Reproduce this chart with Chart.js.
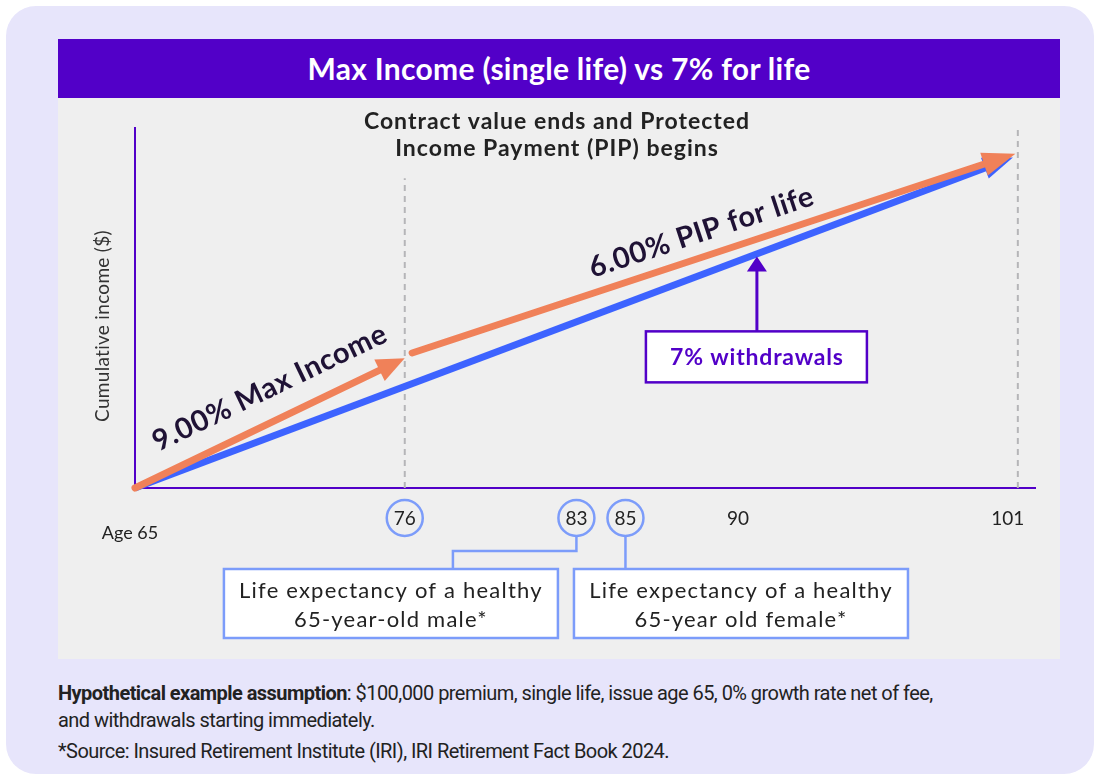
<!DOCTYPE html>
<html>
<head>
<meta charset="utf-8">
<script src="https://cdn.jsdelivr.net/npm/chart.js@4.4.1/dist/chart.umd.min.js"></script>
<style>
  html, body { margin: 0; padding: 0; background: #fff; }
  body { width: 1095px; height: 779px; position: relative; overflow: hidden; font-family: Lato, sans-serif; }
  #card { position: absolute; left: 6px; top: 6px; width: 1088px; height: 768px; background: #e7e5fb; border-radius: 30px; }
  #panel { position: absolute; left: 58px; top: 39px; width: 1002px; height: 620px; background: #efefef; }
  #header { height: 59px; background: #5200c8; color: #fff; font: bold 30px Lato, sans-serif; letter-spacing: 0.3px; text-align: center; line-height: 59px; }
  #chartBox { position: relative; width: 1002px; height: 561px; }
  #notes { position: absolute; left: 58px; top: 680px; width: 1010px; font: 20px Roboto, sans-serif; letter-spacing: -0.55px; color: #222; line-height: 27px; }
  #notes p { margin: 0; }
  #notes p.src { margin-top: 4px; }
</style>
</head>
<body>
<div id="card"></div>
<div id="panel">
  <div id="header">Max Income (single life) vs 7% for life</div>
  <div id="chartBox"><canvas id="chart"></canvas></div>
</div>
<div id="notes">
  <p><b>Hypothetical example assumption</b>: $100,000 premium, single life, issue age 65, 0% growth rate net of fee,<br>and withdrawals starting immediately.</p>
  <p class="src">*Source: Insured Retirement Institute (IRI), IRI Retirement Fact Book 2024.</p>
</div>
<script>
// cumulative income in $ thousands, by age
const maxIncomeAges = [65, 76];
const maxIncomeValues = [0, 101];
const pipAges = [76.3, 100.9];
const pipValues = [105, 260];
const withdrawalAges = [65, 100.8];
const withdrawalValues = [0, 257];
const markerAges = [76, 101];
const markerTops = [241, 281];

const circledAges = [76, 83, 85];
const plainAges = [90, 101];
const startAge = 65;

const PURPLE = '#5200c8';
const ORANGE = '#f08159';
const BLUE = '#3d63ff';
const LIGHTBLUE = '#7c9cfa';
const INK = '#1f1235';

const pts = (xs, ys) => xs.map((x, i) => ({ x: x, y: ys[i] }));

// unit vector along the last segment of a line
function lastSeg(points) {
    const tip = points[points.length - 1];
    const prev = points[points.length - 2];
    const dx = tip.x - prev.x, dy = tip.y - prev.y;
    const l = Math.hypot(dx, dy);
    return { tip, ux: dx / l, uy: dy / l, nx: -dy / l, ny: dx / l };
}

const arrowHeads = {
    id: 'arrowHeads',
    beforeDatasetDraw(chart, args) {
        const ds = chart.data.datasets[args.index];
        if (!ds.arrow) return;
        const s = lastSeg(args.meta.data);
        const ctx = chart.ctx;
        const bx = s.tip.x - s.ux * (ds.arrow.len - 3), by = s.tip.y - s.uy * (ds.arrow.len - 3);
        const w = 12, f = 30;
        // keep the thick line from poking past the head
        ctx.save();
        ctx.beginPath();
        ctx.rect(0, 0, chart.width, chart.height);
        ctx.moveTo(bx + s.nx * w, by + s.ny * w);
        ctx.lineTo(s.tip.x + s.ux * f + s.nx * w, s.tip.y + s.uy * f + s.ny * w);
        ctx.lineTo(s.tip.x + s.ux * f - s.nx * w, s.tip.y + s.uy * f - s.ny * w);
        ctx.lineTo(bx - s.nx * w, by - s.ny * w);
        ctx.closePath();
        ctx.clip('evenodd');
    },
    afterDatasetDraw(chart, args) {
        const ds = chart.data.datasets[args.index];
        if (!ds.arrow) return;
        const ctx = chart.ctx;
        ctx.restore();
        const s = lastSeg(args.meta.data);
        const { len, half } = ds.arrow;
        const bx = s.tip.x - s.ux * len, by = s.tip.y - s.uy * len;
        ctx.save();
        ctx.fillStyle = ds.borderColor;
        ctx.beginPath();
        ctx.moveTo(s.tip.x, s.tip.y);
        ctx.lineTo(bx + s.nx * half, by + s.ny * half);
        ctx.lineTo(bx - s.nx * half, by - s.ny * half);
        ctx.closePath();
        ctx.fill();
        ctx.restore();
    }
};

function rotatedLabel(ctx, text, x, y, angle) {
    ctx.save();
    ctx.translate(x, y);
    ctx.rotate(angle);
    ctx.font = 'bold 29px Lato, sans-serif';
    ctx.letterSpacing = '0.6px';
    ctx.fillStyle = INK;
    ctx.textAlign = 'center';
    ctx.textBaseline = 'middle';
    ctx.fillText(text, 0, 0);
    ctx.restore();
}

function noteBox(ctx, cx, top, lines) {
    const w = 334, h = 69;
    ctx.save();
    ctx.fillStyle = '#fff';
    ctx.fillRect(cx - w / 2, top, w, h);
    ctx.strokeStyle = LIGHTBLUE;
    ctx.lineWidth = 2.5;
    ctx.strokeRect(cx - w / 2, top, w, h);
    ctx.fillStyle = '#222';
    ctx.font = '22px Lato, sans-serif';
    ctx.letterSpacing = '1.2px';
    ctx.textAlign = 'center';
    ctx.textBaseline = 'middle';
    lines.forEach((t, i) => ctx.fillText(t, cx, top + 22 + i * 29));
    ctx.restore();
}

const annotations = {
    id: 'annotations',
    afterDraw(chart) {
        const ctx = chart.ctx;
        const xs = chart.scales.x, ys = chart.scales.y;
        const axisY = chart.chartArea.bottom;
        const rowY = axisY + 30;
        ctx.save();
        ctx.textAlign = 'center';
        ctx.textBaseline = 'middle';

        // y axis title
        ctx.save();
        ctx.translate(45, 228);
        ctx.rotate(-Math.PI / 2);
        ctx.font = '19px Lato, sans-serif';
        ctx.letterSpacing = '0.3px';
        ctx.fillStyle = '#333';
        ctx.fillText('Cumulative income ($)', 0, 0);
        ctx.restore();

        // top note
        ctx.save();
        ctx.font = 'bold 23px Lato, sans-serif';
        ctx.letterSpacing = '1px';
        ctx.fillStyle = '#222';
        ctx.fillText('Contract value ends and Protected', 499, 24);
        ctx.fillText('Income Payment (PIP) begins', 499, 51);
        ctx.restore();

        // slanted labels follow their lines
        const m0 = chart.getDatasetMeta(0).data, m1 = chart.getDatasetMeta(1).data;
        const a0 = Math.atan2(m0[1].y - m0[0].y, m0[1].x - m0[0].x);
        const a1 = Math.atan2(m1[1].y - m1[0].y, m1[1].x - m1[0].x);
        rotatedLabel(ctx, '9.00% Max Income', xs.getPixelForValue(70.5), ys.getPixelForValue(78), a0);
        rotatedLabel(ctx, '6.00% PIP for life', xs.getPixelForValue(88.1), ys.getPixelForValue(199), a1);

        // 7% withdrawals callout
        const ax = xs.getPixelForValue(90.36);
        const tipY = ys.getPixelForValue(180);
        const boxCy = ys.getPixelForValue(102);
        ctx.strokeStyle = PURPLE;
        ctx.fillStyle = PURPLE;
        ctx.lineWidth = 3;
        ctx.beginPath();
        ctx.moveTo(ax, boxCy - 25);
        ctx.lineTo(ax, tipY + 10);
        ctx.stroke();
        ctx.beginPath();
        ctx.moveTo(ax, tipY);
        ctx.lineTo(ax + 10, tipY + 15);
        ctx.lineTo(ax - 10, tipY + 15);
        ctx.closePath();
        ctx.fill();
        ctx.fillStyle = '#fff';
        ctx.fillRect(ax - 111, boxCy - 25.5, 221, 51);
        ctx.lineWidth = 2.5;
        ctx.strokeRect(ax - 111, boxCy - 25.5, 221, 51);
        ctx.save();
        ctx.fillStyle = PURPLE;
        ctx.font = 'bold 23px Lato, sans-serif';
        ctx.letterSpacing = '0.8px';
        ctx.fillText('7% withdrawals', ax, boxCy + 1);
        ctx.restore();

        // age row
        ctx.font = '18px Lato, sans-serif';
        ctx.fillStyle = '#222';
        ctx.fillText('Age ' + startAge, xs.getPixelForValue(startAge) - 5, rowY + 15);
        ctx.font = '19px Lato, sans-serif';
        plainAges.forEach(a => ctx.fillText(String(a), xs.getPixelForValue(a) - 10, rowY + 1));
        circledAges.forEach(a => {
            const cx = xs.getPixelForValue(a);
            ctx.beginPath();
            ctx.arc(cx, rowY, 18, 0, Math.PI * 2);
            ctx.strokeStyle = LIGHTBLUE;
            ctx.lineWidth = 2.5;
            ctx.stroke();
            ctx.fillStyle = '#222';
            ctx.fillText(String(a), cx, rowY + 1);
        });

        // life expectancy callouts
        const boxTop = rowY + 51;
        const p83 = xs.getPixelForValue(83), p85 = xs.getPixelForValue(85);
        ctx.strokeStyle = LIGHTBLUE;
        ctx.lineWidth = 2.5;
        ctx.beginPath();
        ctx.moveTo(p83, rowY + 18);
        ctx.lineTo(p83, rowY + 33);
        ctx.lineTo(p83 - 123.5, rowY + 33);
        ctx.lineTo(p83 - 123.5, boxTop);
        ctx.moveTo(p85, rowY + 18);
        ctx.lineTo(p85, boxTop);
        ctx.stroke();
        noteBox(ctx, p83 - 185.5, boxTop, ['Life expectancy of a healthy', '65-year-old male*']);
        noteBox(ctx, p85 + 115.5, boxTop, ['Life expectancy of a healthy', '65-year old female*']);

        ctx.restore();
    }
};

new Chart(document.getElementById('chart'), {
    type: 'line',
    data: {
        datasets: [
            { label: '9.00% Max Income', data: pts(maxIncomeAges, maxIncomeValues), borderColor: ORANGE, borderCapStyle: 'round', arrow: { len: 28, half: 12 } },
            { label: '6.00% PIP for life', data: pts(pipAges, pipValues), borderColor: ORANGE, borderCapStyle: 'round', arrow: { len: 33, half: 12 } },
            { label: '7% withdrawals', data: pts(withdrawalAges, withdrawalValues), borderColor: BLUE, borderCapStyle: 'butt', arrow: { len: 30, half: 11 } },
            ...markerAges.map((a, i) => ({
                label: 'age ' + a, data: [{ x: a, y: 0 }, { x: a, y: markerTops[i] }],
                borderColor: '#b5b5b8', borderWidth: 2, borderDash: [6, 5]
            }))
        ]
    },
    options: {
        responsive: true,
        maintainAspectRatio: false,
        animation: false,
        layout: { padding: { left: 77, right: 25, top: 30, bottom: 171 } },
        datasets: { line: { clip: false, pointRadius: 0, borderWidth: 7, fill: false, tension: 0 } },
        plugins: { legend: { display: false }, tooltip: { enabled: false } },
        scales: {
            x: { type: 'linear', min: 65, max: 101.7, grid: { display: false, drawTicks: false }, ticks: { display: false }, border: { color: PURPLE, width: 2 } },
            y: { min: 0, max: 280, grid: { display: false, drawTicks: false }, ticks: { display: false }, border: { color: PURPLE, width: 2 } }
        }
    },
    plugins: [arrowHeads, annotations]
});
</script>
</body>
</html>
